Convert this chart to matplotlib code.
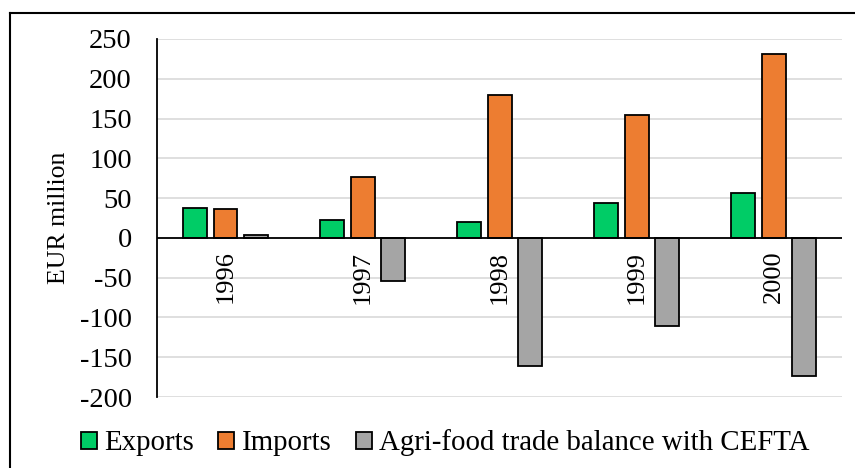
import numpy as np
import matplotlib.pyplot as plt
from matplotlib.lines import Line2D

years = ["1996", "1997", "1998", "1999", "2000"]
exports = [38, 22, 20, 44, 56]
imports = [36, 76, 180, 154, 231]
balance = [3, -54, -161, -111, -173]
series_names = ["Exports", "Imports", "Agri-food trade balance with CEFTA"]

plt.rcParams["font.family"] = ["Liberation Serif", "DejaVu Serif"]
plt.rcParams["axes.unicode_minus"] = False

fig = plt.figure(figsize=(8.55, 4.68), dpi=100)
ax = fig.add_axes([0.1836, 0.1517, 0.8014, 0.765])

x = np.arange(len(years))
w = 0.175
off = 0.223
colors = ["#00CC66", "#ED7D31", "#A5A5A5"]
for vals, dx, c, name in zip([exports, imports, balance], [-off, 0, off], colors, series_names):
    ax.bar(x + dx, vals, w, color=c, edgecolor="black", lw=1.3, label=name, zorder=3)

ax.set_xlim(-0.5, len(years) - 0.5)
ax.set_ylim(-200, 250)
ax.set_yticks(range(-200, 251, 50))
ax.yaxis.grid(True, color="#d9d9d9", lw=1.2, zorder=0)
ax.set_axisbelow(True)
ax.axhline(0, color="black", lw=1.3, zorder=4)
for s in ("top", "right", "bottom"):
    ax.spines[s].set_visible(False)
ax.spines["left"].set_linewidth(1.3)
ax.tick_params(axis="y", length=0, labelsize=20.5, pad=18)
ax.set_xticks([])
for xi, yr in zip(x, years):
    ax.text(xi, -16, yr, rotation=90, ha="center", va="top", fontsize=19, zorder=5)

ax.set_ylabel("EUR million", fontsize=18.5, labelpad=7)

fig.legend(loc="center left", bbox_to_anchor=(0.0947, 0.0534),
           ncol=3, frameon=False, fontsize=20.8, handlelength=0.55, handleheight=0.55,
           handletextpad=0.25, columnspacing=0.85, borderaxespad=0, borderpad=0)

# outer frame (left and top edges visible)
fig.add_artist(Line2D([0.012, 0.012], [0, 0.972], color="black", lw=1.5, transform=fig.transFigure))
fig.add_artist(Line2D([0.012, 1.0], [0.972, 0.972], color="black", lw=1.5, transform=fig.transFigure))

fig.savefig("out.png", dpi=100)
